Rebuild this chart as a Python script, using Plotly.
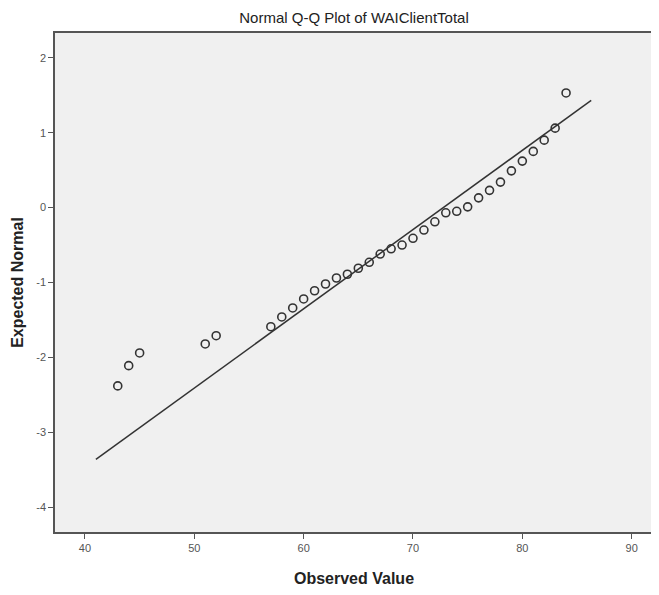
import plotly.graph_objects as go

observed = [43, 44, 45, 51, 52, 57, 58, 59, 60, 61, 62, 63, 64, 65, 66, 67, 68, 69, 70,
            71, 72, 73, 74, 75, 76, 77, 78, 79, 80, 81, 82, 83, 84]
expected = [-2.38, -2.11, -1.94, -1.82, -1.71, -1.59, -1.46, -1.34, -1.22, -1.11, -1.02,
            -0.94, -0.89, -0.81, -0.73, -0.62, -0.55, -0.50, -0.41, -0.30, -0.19, -0.07,
            -0.05, 0.01, 0.13, 0.23, 0.34, 0.49, 0.62, 0.75, 0.90, 1.06, 1.53]
line_x = [41.0, 86.3]
line_y = [-3.36, 1.43]
x_ticks = [40, 50, 60, 70, 80, 90]
y_ticks = [-4, -3, -2, -1, 0, 1, 2]
y_tick_labels = ["-4", "-3", "-2", "-1", "0", "1", "2"]

fig = go.Figure()
fig.add_trace(go.Scatter(x=line_x, y=line_y, mode="lines",
                         line=dict(color="#333333", width=1.5), showlegend=False))
fig.add_trace(go.Scatter(x=observed, y=expected, mode="markers",
                         marker=dict(symbol="circle-open", size=8, color="#333333",
                                     line=dict(color="#333333", width=1.6)),
                         showlegend=False))

font = "Liberation Sans, Arial, sans-serif"
# The page body has an 8px default margin, so the figure is 651x587 placed at (8, 8).
fig.update_layout(
    width=651, height=587,
    margin=dict(l=47, r=6, t=25, b=63),
    paper_bgcolor="white",
    plot_bgcolor="#f0f0f0",
    font=dict(family=font, color="#444444"),
    title=dict(text="Normal Q-Q Plot of WAIClientTotal", x=0.5, xref="paper",
               y=1 - 9.5 / 587, yref="container", yanchor="middle",
               font=dict(size=15, color="#222222", family=font)),
    showlegend=False,
    shapes=[dict(type="line", xref="paper", yref="paper", x0=1, x1=1, y0=0, y1=1,
                 line=dict(color="#dddddd", width=1))],
)
fig.update_xaxes(
    range=[37.26, 91.95], tickvals=x_ticks, ticks="outside", ticklen=5, tickcolor="#555555",
    showgrid=False, zeroline=False, showline=True, linecolor="#555555", linewidth=1.5,
    mirror=True, tickfont=dict(size=11, color="#555555"), automargin=False,
    title=dict(text="<b>Observed Value</b>", font=dict(size=16, color="#222222"), standoff=20),
)
fig.update_yaxes(
    range=[-4.33, 2.33], tickvals=y_ticks, ticktext=y_tick_labels, ticks="outside",
    ticklen=5, tickcolor="#555555",
    showgrid=False, zeroline=False, showline=True, linecolor="#555555", linewidth=1.5,
    tickfont=dict(size=11, color="#555555"), automargin=False,
    title=dict(text="<b>Expected Normal</b>", font=dict(size=16, color="#222222"), standoff=9),
)
fig.write_html("out.html")
